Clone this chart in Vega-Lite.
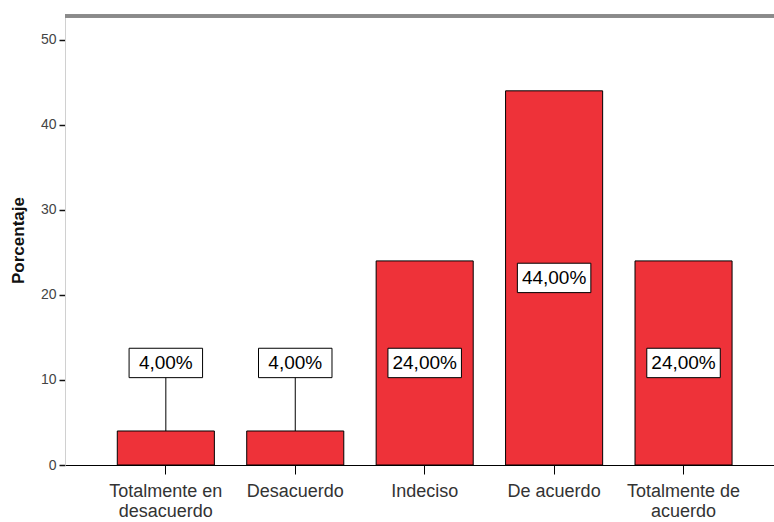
{
  "$schema": "https://vega.github.io/schema/vega-lite/v6.json",
  "width": 709,
  "height": 449,
  "autosize": {"type": "none"},
  "padding": {"left": 65, "top": 16, "right": 0, "bottom": 57},
  "background": "white",
  "config": {
    "view": {"stroke": null},
    "font": "Liberation Sans"
  },
  "data": {
    "values": [
      {"categoria": "Totalmente en desacuerdo", "pct": 4},
      {"categoria": "Desacuerdo", "pct": 4},
      {"categoria": "Indeciso", "pct": 24},
      {"categoria": "De acuerdo", "pct": 44},
      {"categoria": "Totalmente de acuerdo", "pct": 24}
    ]
  },
  "transform": [
    {"calculate": "replace(format(datum.pct, '.2f'), '.', ',') + '%'", "as": "etiqueta"},
    {"calculate": "max(datum.pct / 2, 12)", "as": "posEtiqueta"}
  ],
  "layer": [
    {
      "encoding": {
        "x": {
          "field": "categoria",
          "type": "nominal",
          "sort": null,
          "scale": {"paddingInner": 0.25, "paddingOuter": 0.364, "align": 0.555},
          "axis": {
            "title": null,
            "labelAngle": 0,
            "labelFontSize": 18,
            "labelColor": "#333333",
            "labelLineHeight": 20,
            "labelPadding": 8,
            "labelLimit": 0,
            "tickSize": 9,
            "tickColor": "#000000",
            "tickWidth": 1,
            "domainColor": "#000000",
            "domainWidth": 1.2,
            "labelExpr": "datum.label == 'Totalmente en desacuerdo' ? ['Totalmente en', 'desacuerdo'] : datum.label == 'Totalmente de acuerdo' ? ['Totalmente de', 'acuerdo'] : datum.label"
          }
        }
      },
      "layer": [
        {
          "mark": {"type": "bar", "fill": "#ee3239", "stroke": "#000000", "strokeWidth": 1},
          "encoding": {
            "y": {
              "field": "pct",
              "type": "quantitative",
              "scale": {"domain": [0, 52.8], "nice": false},
              "axis": {
                "title": "Porcentaje",
                "titleFontSize": 17,
                "titleFontWeight": "bold",
                "titleColor": "#111111",
                "titleX": -47,
                "titleY": 224,
                "titleBaseline": "middle",
                "titleAlign": "center",
                "values": [0, 10, 20, 30, 40, 50],
                "grid": false,
                "labelFontSize": 14,
                "labelColor": "#444444",
                "labelPadding": 3,
                "tickSize": 6,
                "tickWidth": 1.5,
                "tickColor": "#111111",
                "domainColor": "#d0d0d0",
                "domainWidth": 1
              }
            }
          }
        },
        {
          "transform": [{"filter": "datum.pct / 2 < 12"}],
          "mark": {"type": "rule", "stroke": "#000000", "strokeWidth": 1},
          "encoding": {
            "y": {"field": "pct", "type": "quantitative"},
            "y2": {"field": "posEtiqueta"}
          }
        },
        {
          "mark": {
            "type": "point",
            "shape": "M-1,-0.4H1V0.4H-1Z",
            "size": 5400,
            "filled": true,
            "fill": "#ffffff",
            "stroke": "#000000",
            "strokeWidth": 1,
            "opacity": 1
          },
          "encoding": {
            "y": {"field": "posEtiqueta", "type": "quantitative"}
          }
        },
        {
          "mark": {"type": "text", "fontSize": 19, "color": "#000000", "baseline": "middle", "align": "center"},
          "encoding": {
            "y": {"field": "posEtiqueta", "type": "quantitative"},
            "text": {"field": "etiqueta"}
          }
        }
      ]
    },
    {
      "mark": {"type": "rule", "stroke": "#8a8a8a", "strokeWidth": 3},
      "encoding": {
        "y": {"datum": 52.8}
      }
    }
  ]
}
